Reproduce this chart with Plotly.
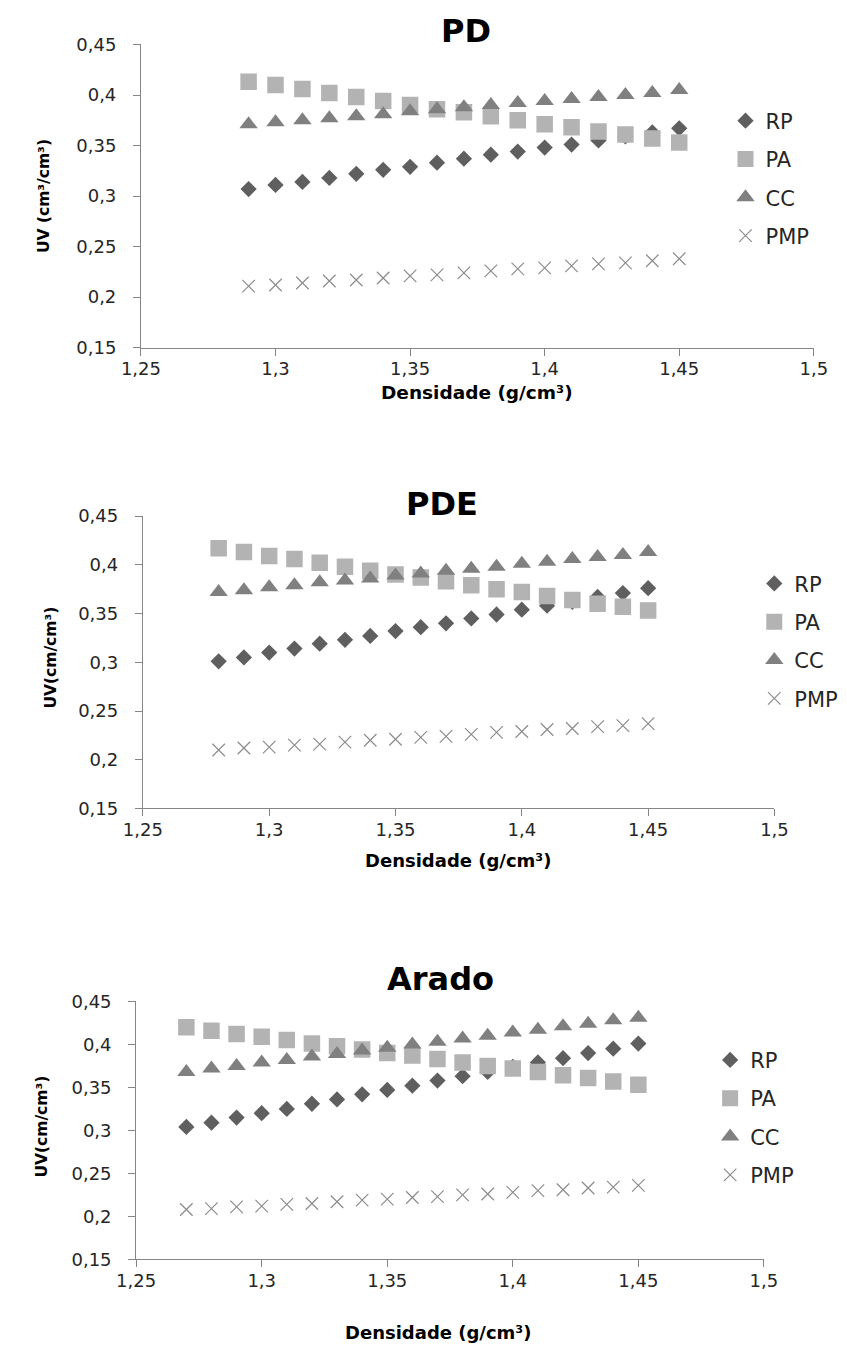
import plotly.graph_objects as go

# ---------------- data ----------------
x_pd = [1.29, 1.30, 1.31, 1.32, 1.33, 1.34, 1.35, 1.36, 1.37, 1.38, 1.39, 1.40, 1.41, 1.42, 1.43, 1.44, 1.45]
pd_rp = [0.307, 0.311, 0.314, 0.318, 0.322, 0.326, 0.329, 0.333, 0.337, 0.341, 0.344, 0.348, 0.351, 0.355, 0.359, 0.363, 0.367]
pd_pa = [0.413, 0.410, 0.406, 0.402, 0.398, 0.394, 0.390, 0.386, 0.383, 0.379, 0.375, 0.371, 0.368, 0.364, 0.361, 0.357, 0.353]
pd_cc = [0.371, 0.373, 0.375, 0.377, 0.379, 0.381, 0.384, 0.386, 0.388, 0.390, 0.392, 0.394, 0.396, 0.398, 0.400, 0.402, 0.405]
pd_pmp = [0.211, 0.212, 0.214, 0.216, 0.217, 0.219, 0.221, 0.222, 0.224, 0.226, 0.228, 0.229, 0.231, 0.233, 0.234, 0.236, 0.238]

x_pde = [1.28, 1.29, 1.30, 1.31, 1.32, 1.33, 1.34, 1.35, 1.36, 1.37, 1.38, 1.39, 1.40, 1.41, 1.42, 1.43, 1.44, 1.45]
pde_rp = [0.301, 0.305, 0.310, 0.314, 0.319, 0.323, 0.327, 0.332, 0.336, 0.340, 0.345, 0.349, 0.354, 0.358, 0.362, 0.367, 0.371, 0.376]
pde_pa = [0.417, 0.413, 0.409, 0.406, 0.402, 0.398, 0.394, 0.390, 0.387, 0.383, 0.379, 0.375, 0.372, 0.368, 0.364, 0.360, 0.357, 0.353]
pde_cc = [0.372, 0.374, 0.377, 0.379, 0.382, 0.384, 0.386, 0.389, 0.391, 0.394, 0.396, 0.398, 0.401, 0.403, 0.406, 0.408, 0.410, 0.413]
pde_pmp = [0.210, 0.212, 0.213, 0.215, 0.216, 0.218, 0.220, 0.221, 0.223, 0.224, 0.226, 0.228, 0.229, 0.231, 0.232, 0.234, 0.235, 0.237]

x_arado = [1.27, 1.28, 1.29, 1.30, 1.31, 1.32, 1.33, 1.34, 1.35, 1.36, 1.37, 1.38, 1.39, 1.40, 1.41, 1.42, 1.43, 1.44, 1.45]
arado_rp = [0.304, 0.309, 0.315, 0.320, 0.325, 0.331, 0.336, 0.342, 0.347, 0.352, 0.358, 0.363, 0.368, 0.374, 0.379, 0.384, 0.390, 0.395, 0.401]
arado_pa = [0.420, 0.416, 0.412, 0.409, 0.405, 0.401, 0.398, 0.394, 0.390, 0.387, 0.383, 0.379, 0.375, 0.372, 0.368, 0.364, 0.361, 0.357, 0.353]
arado_cc = [0.368, 0.372, 0.375, 0.379, 0.382, 0.386, 0.389, 0.393, 0.396, 0.400, 0.403, 0.407, 0.410, 0.414, 0.417, 0.421, 0.424, 0.428, 0.431]
arado_pmp = [0.208, 0.209, 0.211, 0.212, 0.214, 0.215, 0.217, 0.219, 0.220, 0.222, 0.223, 0.225, 0.226, 0.228, 0.230, 0.231, 0.233, 0.234, 0.236]

series_names = ["RP", "PA", "CC", "PMP"]
panel_titles = ["PD", "PDE", "Arado"]
y_titles = ["UV (cm³/cm³)", "UV(cm/cm³)", "UV(cm/cm³)"]
x_title = "Densidade (g/cm³)"
x_tickvals = [1.25, 1.30, 1.35, 1.40, 1.45, 1.50]
x_ticktext = ["1,25", "1,3", "1,35", "1,4", "1,45", "1,5"]
y_tickvals = [0.15, 0.20, 0.25, 0.30, 0.35, 0.40, 0.45]
y_ticktext = ["0,15", "0,2", "0,25", "0,3", "0,35", "0,4", "0,45"]

# ---------------- layout helpers ----------------
W, H = 847, 1357
FONT = "DejaVu Sans"
AXIS_COLOR = "#868686"
TEXT_COLOR = "#000000"
TICK_COLOR = "#262626"

# plot area boxes in pixels: (left, right, top, bottom)
boxes = [(126, 827, 34, 342), (128, 786, 513, 810), (121, 775, 1006, 1268)]
title_pos = [(465, 20), (440, 501), (438, 983)]
title_size = [32, 32, 32]
xtitle_pos = [(476, 388), (456, 863), (436, 1342)]
xtitle_size = [18.5, 18, 18]
ytitle_pos = [(25, 188), (32, 657), (23, 1133)]
legend_pos = [(735, 91), (765, 561), (719, 1045)]

styles = [
    dict(symbol="diamond", size=12.5, color="#5f5f5f"),
    dict(symbol="square", size=16.5, color="#b3b3b3"),
    dict(symbol="triangle-up", size=16, color="#808080"),
    dict(symbol="x-thin-open", size=12.5, color="#8c8c8c"),
]

panels = [
    (x_pd, [pd_rp, pd_pa, pd_cc, pd_pmp]),
    (x_pde, [pde_rp, pde_pa, pde_cc, pde_pmp]),
    (x_arado, [arado_rp, arado_pa, arado_cc, arado_pmp]),
]

fig = go.Figure()
annotations = []
layout_extra = {}

for i, ((xs, ys_list), box) in enumerate(zip(panels, boxes)):
    n = i + 1
    xa = "x" if n == 1 else f"x{n}"
    ya = "y" if n == 1 else f"y{n}"
    lg = "legend" if n == 1 else f"legend{n}"
    for name, ys, st in zip(series_names, ys_list, styles):
        mk = dict(symbol=st["symbol"], size=st["size"], color=st["color"])
        if st["symbol"] == "x-thin-open":
            mk["line"] = dict(color=st["color"], width=1.2)
        else:
            mk["line"] = dict(width=0)
        fig.add_trace(go.Scatter(
            x=xs, y=ys, mode="markers", name=name, marker=mk,
            xaxis=xa, yaxis=ya, legend=lg, legendgroup=f"{lg}_{name}",
            showlegend=True,
        ))
    l, r, t, b = box
    xdom = [l / W, r / W]
    ydom = [1 - b / H, 1 - t / H]
    xkey = "xaxis" if n == 1 else f"xaxis{n}"
    ykey = "yaxis" if n == 1 else f"yaxis{n}"
    common = dict(
        showline=True, linecolor=AXIS_COLOR, linewidth=1,
        ticks="outside", ticklen=7, tickcolor=AXIS_COLOR, tickwidth=1,
        showgrid=False, zeroline=False,
        tickfont=dict(family=FONT, size=18, color=TICK_COLOR),
    )
    layout_extra[xkey] = dict(domain=xdom, anchor=ya, range=[1.25, 1.5],
                              tickvals=x_tickvals, ticktext=x_ticktext,
                              ticklabelstandoff=-2, **common)
    layout_extra[ykey] = dict(domain=ydom, anchor=xa, range=[0.15, 0.45],
                              tickvals=y_tickvals, ticktext=y_ticktext,
                              ticklabelstandoff=13, **common)
    lx, ly = legend_pos[i]
    layout_extra[lg] = dict(
        x=lx / W, y=1 - ly / H, xanchor="left", yanchor="top",
        xref="paper", yref="paper",
        font=dict(family=FONT, size=21, color=TICK_COLOR),
        bgcolor="rgba(0,0,0,0)", tracegroupgap=8, itemwidth=30,
    )
    tx, ty = title_pos[i]
    annotations.append(dict(
        text=f"<b>{panel_titles[i]}</b>", x=tx / W, y=1 - ty / H,
        xref="paper", yref="paper", showarrow=False,
        xanchor="center", yanchor="middle",
        font=dict(family=FONT, size=title_size[i], color=TEXT_COLOR),
    ))
    xx, xy = xtitle_pos[i]
    annotations.append(dict(
        text=f"<b>{x_title}</b>", x=xx / W, y=1 - xy / H,
        xref="paper", yref="paper", showarrow=False,
        xanchor="center", yanchor="middle",
        font=dict(family=FONT, size=xtitle_size[i], color=TEXT_COLOR),
    ))
    yx, yy = ytitle_pos[i]
    annotations.append(dict(
        text=f"<b>{y_titles[i]}</b>", x=yx / W, y=1 - yy / H,
        xref="paper", yref="paper", showarrow=False, textangle=-90,
        xanchor="center", yanchor="middle",
        font=dict(family=FONT, size=15.5, color=TEXT_COLOR),
    ))

fig.update_layout(
    width=W, height=H,
    margin=dict(l=0, r=0, t=0, b=0),
    paper_bgcolor="white", plot_bgcolor="white",
    annotations=annotations,
    **layout_extra,
)

fig.write_html(
    "out.html",
    config={"displayModeBar": False},
    post_script="document.body.style.margin='0';document.body.style.overflow='hidden';",
)
